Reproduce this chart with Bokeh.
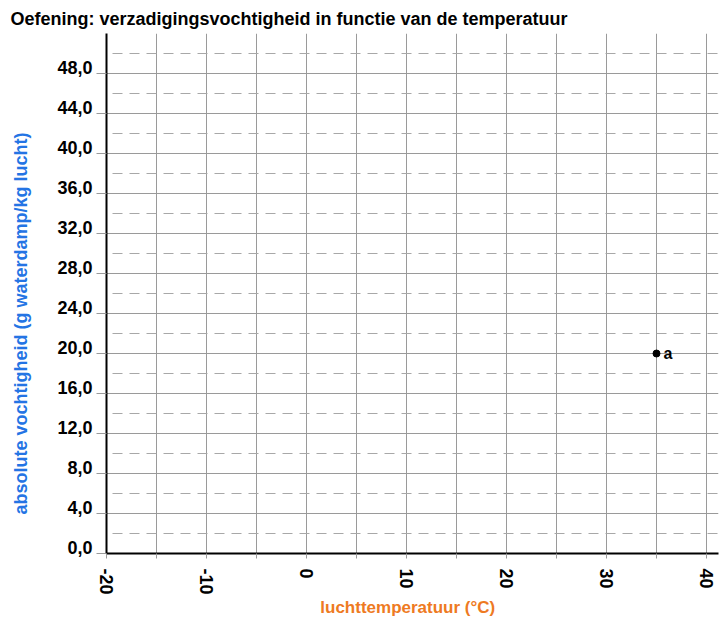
import math
from bokeh.plotting import figure
from bokeh.models import FixedTicker, LinearAxis, Range1d, ColumnDataSource
from bokeh.core.properties import value
from bokeh.embed import file_html
from bokeh.resources import INLINE

# ---- data ----
title_text = "Oefening: verzadigingsvochtigheid in functie van de temperatuur"
x_label = "luchttemperatuur (°C)"
y_label = "absolute vochtigheid (g waterdamp/kg lucht)"

x_major = [-20, -10, 0, 10, 20, 30, 40]
x_tick_labels = ["-20", "-10", "0", "10", "20", "30", "40"]
x_minor = [-15, -5, 5, 15, 25, 35]
y_major = [0, 4, 8, 12, 16, 20, 24, 28, 32, 36, 40, 44, 48]
y_tick_labels = ["0,0", "4,0", "8,0", "12,0", "16,0", "20,0", "24,0",
                 "28,0", "32,0", "36,0", "40,0", "44,0", "48,0"]
y_minor = [2, 6, 10, 14, 18, 22, 26, 30, 34, 38, 42, 46, 50]

point_temp = [35]
point_hum = [20]
point_name = ["a"]

FONT = "Liberation Sans"
GRID = "#9a9a9a"
NBSP = "\u00a0"

X0, X1 = -20, 41.2
Y0, Y1 = 0, 52
LABEL_SHIFT = 0.6  # tick labels sit slightly above their tick

p = figure(width=720, height=622, x_range=(X0, X1), y_range=(Y0, Y1),
           output_backend="svg", toolbar_location=None,
           min_border_left=106, min_border_right=2, min_border_top=33,
           min_border_bottom=69)
p.outline_line_color = None
p.background_fill_color = "white"
p.border_fill_color = "white"
p.extra_y_ranges = {"lbl": Range1d(Y0 - LABEL_SHIFT, Y1 - LABEL_SHIFT)}

# title
p.title.text = title_text
p.title.align = "left"
p.title.offset = -96
p.title.text_font = FONT
p.title.text_font_size = "18px"
p.title.text_font_style = "bold"
p.title.text_color = "black"

# x axis
xa = p.xaxis[0]
xa.ticker = FixedTicker(ticks=x_major, minor_ticks=x_minor)
xa.major_label_overrides = {v: s for v, s in zip(x_major, x_tick_labels)}
xa.axis_line_color = "black"
xa.axis_line_width = 2
xa.major_tick_line_color = GRID
xa.minor_tick_line_color = GRID
xa.major_tick_in = 0
xa.major_tick_out = 5
xa.minor_tick_in = 0
xa.minor_tick_out = 5
xa.major_label_orientation = -math.pi / 2
xa.major_label_standoff = 10
xa.major_label_text_font = FONT
xa.major_label_text_font_size = "18px"
xa.major_label_text_font_style = "bold"
xa.major_label_text_color = "black"
xa.axis_label = x_label + NBSP * 2
xa.axis_label_text_font = FONT
xa.axis_label_text_font_size = "17px"
xa.axis_label_text_font_style = "bold"
xa.axis_label_text_color = "#ee7a22"
xa.axis_label_standoff = 0

# main y axis: line and tick marks only (drawn as unlabeled minor ticks)
ya = p.yaxis[0]
ya.ticker = FixedTicker(ticks=[], minor_ticks=y_major)
ya.axis_line_color = "black"
ya.axis_line_width = 2
ya.major_tick_line_color = None
ya.major_tick_in = 0
ya.major_tick_out = 0
ya.minor_tick_line_color = GRID
ya.minor_tick_out = 10
ya.minor_tick_in = 0
ya.major_label_standoff = 0

# y tick labels
yl = LinearAxis(y_range_name="lbl",
                ticker=FixedTicker(ticks=y_major, minor_ticks=[]))
yl.major_label_overrides = {v: s for v, s in zip(y_major, y_tick_labels)}
yl.axis_line_color = None
yl.major_tick_line_color = None
yl.minor_tick_line_color = None
yl.major_tick_in = 0
yl.major_tick_out = 0
yl.minor_tick_in = 0
yl.minor_tick_out = 0
yl.major_label_standoff = 4
yl.major_label_text_font = FONT
yl.major_label_text_font_size = "18px"
yl.major_label_text_font_style = "bold"
yl.major_label_text_color = "black"
p.add_layout(yl, "left")

# y axis title (trailing no-break spaces move the centred text lower)
yt = LinearAxis(ticker=FixedTicker(ticks=[], minor_ticks=[]))
yt.axis_line_color = None
yt.major_tick_line_color = None
yt.minor_tick_line_color = None
yt.major_tick_out = 0
yt.minor_tick_out = 0
yt.major_label_standoff = 0
yt.axis_label = y_label + NBSP * 12
yt.axis_label_text_font = FONT
yt.axis_label_text_font_size = "18px"
yt.axis_label_text_font_style = "bold"
yt.axis_label_text_color = "#2474e4"
yt.axis_label_standoff = 24
p.add_layout(yt, "left")

# grids
p.xgrid.grid_line_color = GRID
p.xgrid.minor_grid_line_color = GRID
p.ygrid.ticker = FixedTicker(ticks=y_major, minor_ticks=y_minor)
p.ygrid.grid_line_color = GRID
p.ygrid.minor_grid_line_color = "#a8a8a8"
p.ygrid.minor_grid_line_dash = "10 7"
p.ygrid.minor_grid_line_dash_offset = 11

# point
src = ColumnDataSource(dict(x=point_temp, y=point_hum, name=point_name))
p.scatter("x", "y", source=src, size=7, color="black")
p.text("x", "y", text="name", source=src, x_offset=7, y_offset=0,
       text_font=value(FONT), text_font_size="16px", text_font_style="bold",
       text_baseline="alphabetic", text_color="black")

open("out.html", "w").write(file_html(p, INLINE))
